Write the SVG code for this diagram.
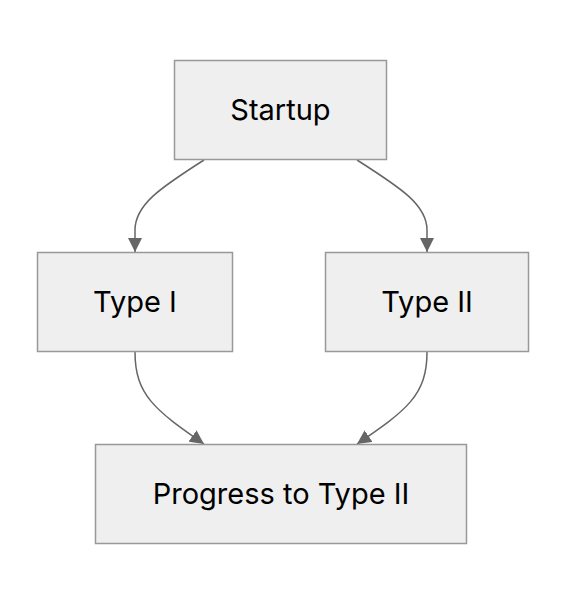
<svg xmlns="http://www.w3.org/2000/svg" width="566" height="604" viewBox="0 0 566 604">
<style>
.node rect{fill:#efefef;stroke:#999;stroke-width:1.5}
.node text{font-family:Inter,"Liberation Sans",sans-serif;font-size:29px;fill:#000;text-anchor:middle;dominant-baseline:central}
.edge{fill:none;stroke:#666;stroke-width:1.5;marker-end:url(#arr)}
</style>
<defs>
<marker id="arr" viewBox="0 0 10 10" refX="10" refY="5" markerWidth="14" markerHeight="14" markerUnits="userSpaceOnUse" orient="auto">
<path d="M0,0 L10,5 L0,10 z" fill="#666"/>
</marker>
</defs>
<rect width="566" height="604" fill="#fff"/>
<g id="edges">
<path class="edge" d="M204,160 C160,188 135,205 135,230 L135,252"/>
<path class="edge" d="M357,160 C401,188 427,205 427,230 L427,252"/>
<path class="edge" d="M135,352 C135,395 155,410 204,444"/>
<path class="edge" d="M427,352 C427,395 407,410 357,444"/>
</g>
<g id="startup" class="node"><rect x="174.5" y="60.5" width="212" height="99"/><text x="280.5" y="109">Startup</text></g>
<g id="type1" class="node"><rect x="37.5" y="252.5" width="195" height="99"/><text x="135" y="301">Type I</text></g>
<g id="type2" class="node"><rect x="325.5" y="252.5" width="203" height="99"/><text x="427" y="301">Type II</text></g>
<g id="progress" class="node"><rect x="95.5" y="444.5" width="371" height="99"/><text x="281" y="493">Progress to Type II</text></g>
</svg>
